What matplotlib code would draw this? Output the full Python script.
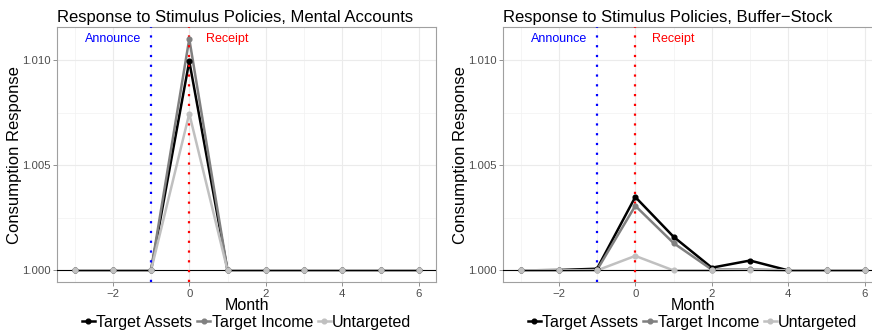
import numpy as np
import matplotlib.pyplot as plt
from matplotlib.lines import Line2D
from matplotlib.ticker import FixedLocator

plt.rcParams['font.family'] = ['Liberation Sans', 'DejaVu Sans']

months = [-3, -2, -1, 0, 1, 2, 3, 4, 5, 6]

# mental accounts model
ma_assets = [1.0, 1.0, 1.0, 1.00994, 1.0, 1.0, 1.0, 1.0, 1.0, 1.0]
ma_income = [1.0, 1.0, 1.0, 1.01100, 1.0, 1.0, 1.0, 1.0, 1.0, 1.0]
ma_untarg = [1.0, 1.0, 1.0, 1.00745, 1.0, 1.0, 1.0, 1.0, 1.0, 1.0]

# buffer-stock model
bs_assets = [1.0, 1.00002, 1.00008, 1.00349, 1.00160, 1.00013, 1.00047, 1.0, 1.0, 1.0]
bs_income = [1.0, 1.0, 1.00002, 1.00307, 1.00130, 1.00004, 1.00005, 1.0, 1.0, 1.0]
bs_untarg = [1.0, 1.0, 1.0, 1.00069, 1.0, 1.0, 1.00003, 1.0, 1.0, 1.0]

series_names = ['Target Assets', 'Target Income', 'Untargeted']
series_colors = ['#000000', '#808080', '#C0C0C0']

titles = ['Response to Stimulus Policies, Mental Accounts',
          'Response to Stimulus Policies, Buffer\u2212Stock']

announce_month = -1
receipt_month = 0

fig = plt.figure(figsize=(8.72, 3.30), dpi=100)
ax1 = fig.add_axes([57.3 / 872, 48 / 330, 378.7 / 872, 254.7 / 330])
ax2 = fig.add_axes([503.3 / 872, 48 / 330, 378.7 / 872, 254.7 / 330])

ymax = max(ma_income)
ypad = (ymax - 1.0) * 0.05

for ax, data, title in [(ax1, [ma_assets, ma_income, ma_untarg], titles[0]),
                        (ax2, [bs_assets, bs_income, bs_untarg], titles[1])]:
    for vals, col in zip(data, series_colors):
        ax.plot(months, vals, color=col, lw=1.8, zorder=3)
    for vals, col in zip(data, series_colors):
        ax.plot(months, vals, 'o', color=col, ms=3.4, zorder=6)
    ax.axhline(1.0, color='black', lw=0.8, zorder=4)
    ax.axvline(announce_month, color='blue', lw=1.6, ls=(0, (1, 3.4)), zorder=5)
    ax.axvline(receipt_month, color='red', lw=1.6, ls=(0, (1, 3.4)), zorder=5)
    ax.text(-2, 1.011, 'Announce', color='blue', fontsize=9, ha='center', va='center')
    ax.text(1, 1.011, 'Receipt', color='red', fontsize=9, ha='center', va='center')

    ax.set_xlim(-3.45, 6.45)
    ax.set_ylim(1.0 - ypad, ymax + ypad)
    ax.set_xticks([-2, 0, 2, 4, 6])
    ax.set_xticklabels(['\u22122', '0', '2', '4', '6'])
    ax.set_yticks([1.000, 1.005, 1.010])
    ax.set_yticklabels(['1.000', '1.005', '1.010'])
    ax.xaxis.set_minor_locator(FixedLocator([-3, -1, 1, 3, 5]))
    ax.yaxis.set_minor_locator(FixedLocator([1.0025, 1.0075]))
    ax.grid(which='major', color='#EBEBEB', lw=0.8, zorder=0)
    ax.grid(which='minor', color='#F2F2F2', lw=0.5, zorder=0)
    ax.set_axisbelow(True)
    ax.tick_params(which='major', length=3, width=0.6, color='#808080',
                   labelsize=8.2, labelcolor='#4D4D4D', pad=2)
    ax.tick_params(which='minor', length=0)
    for s in ax.spines.values():
        s.set_color('#A0A0A0')
        s.set_linewidth(0.8)

    ax.set_title(title, loc='left', fontsize=12, pad=4)
    ax.set_xlabel('Month', fontsize=11.5, labelpad=-1)
    ax.set_ylabel('Consumption Response', fontsize=12, labelpad=0)

    handles = [Line2D([], [], color=c, lw=1.8, marker='o', ms=3.4) for c in series_colors]
    ax.legend(handles, series_names, loc='center', bbox_to_anchor=(0.5, -0.158),
              ncol=3, frameon=False, fontsize=11.5, handlelength=0.8,
              handletextpad=0.1, columnspacing=0.3, borderaxespad=0, borderpad=0)

fig.savefig('out.png', dpi=100)
